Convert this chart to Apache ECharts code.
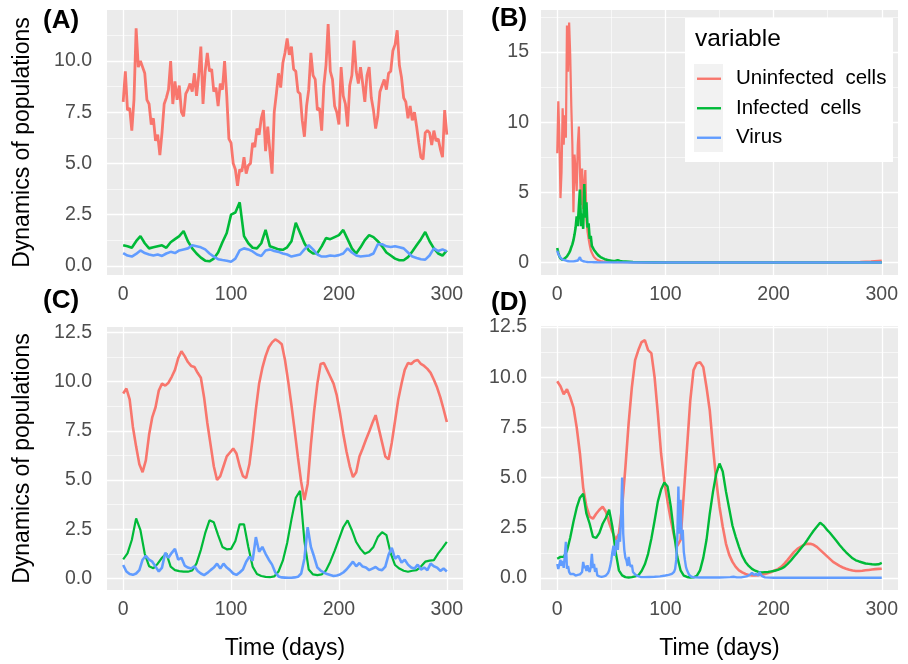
<!DOCTYPE html>
<html>
<head>
<meta charset="utf-8">
<script src="https://cdn.jsdelivr.net/npm/echarts@6/dist/echarts.min.js"></script>
<style>
html,body{margin:0;padding:0;background:#fff;}
#main{width:908px;height:664px;}
</style>
</head>
<body>
<div id="main"></div>
<script>
// series names and colours (ggplot defaults)
var seriesNames = ['Uninfected  cells', 'Infected  cells', 'Virus'];
var seriesColors = ['#F8766D', '#00BA38', '#619CFF'];

// ---- panel A (step in days given per series) ----
var aUninfStep = 2;
var aUninf = [
  8.0, 9.5, 7.6, 7.7, 6.6, 8.1, 11.6, 9.7, 10.0, 9.7,
  9.4, 8.1, 7.9, 6.9, 7.2, 6.1, 6.4, 5.4, 6.5, 7.9,
  8.2, 8.6, 10.0, 7.9, 9.0, 8.1, 8.8, 7.5, 7.3, 8.4,
  8.6, 8.9, 8.5, 9.4, 8.3, 9.3, 10.7, 7.9, 9.5, 10.4,
  9.5, 9.6, 8.5, 8.7, 7.8, 8.9, 8.6, 10.0, 8.3, 6.2,
  6.0, 5.0, 4.7, 3.9, 4.7, 4.6, 5.3, 4.5, 4.9, 5.0,
  6.0, 5.8, 6.7, 6.4, 7.2, 7.6, 5.6, 6.8, 5.6, 4.5,
  7.5, 8.4, 9.4, 8.7, 9.9, 10.4, 11.1, 10.3, 10.7, 9.6,
  9.5, 8.5, 8.4, 7.1, 6.3, 7.8, 8.6, 10.4, 9.3, 9.1,
  7.6, 7.7, 6.6, 8.8, 9.8, 11.8, 9.5, 9.1, 7.8, 7.5,
  6.9, 9.7, 8.3, 7.9, 6.8, 8.8, 9.3, 11.0, 9.5, 8.9,
  9.7, 8.9, 8.0, 9.3, 9.7, 8.2, 7.6, 6.7, 7.3, 8.5,
  8.8, 9.1, 8.6, 9.4, 9.5, 10.5, 10.8, 11.5, 9.8, 9.2,
  8.2, 8.0, 7.2, 7.8, 7.1, 7.5, 6.8, 6.0, 5.3, 5.2,
  6.5, 6.6, 6.5, 5.9, 6.6, 6.1, 6.2, 5.7, 5.3, 7.6,
  6.4
];
var aInfStep = 4;
var aInf = [
  1.0, 0.95, 0.88, 1.2, 1.45, 1.1, 0.85, 0.9, 0.95, 1.0,
  0.88, 1.15, 1.3, 1.45, 1.7, 1.2, 0.85, 0.6, 0.4, 0.25,
  0.22, 0.35, 0.65, 1.15, 1.6, 2.5, 2.6, 3.1, 1.45, 1.1,
  0.88, 0.85, 1.1, 1.75, 0.95, 0.88, 0.8, 0.78, 0.9, 1.2,
  2.1, 1.6, 1.1, 0.75, 0.6, 0.62, 0.95, 1.35, 1.3, 1.4,
  1.5, 1.75, 1.3, 0.85, 0.6, 0.9, 1.25, 1.5, 1.4, 1.2,
  0.95, 0.65, 0.5, 0.35, 0.27, 0.27, 0.42, 0.7, 1.0, 1.3,
  1.65, 1.2, 0.85, 0.6, 0.5, 0.75
];
var aVirStep = 4;
var aVir = [
  0.62, 0.5, 0.45, 0.58, 0.75, 0.62, 0.55, 0.5, 0.55, 0.48,
  0.6, 0.68, 0.62, 0.75, 0.8, 0.85, 1.0, 0.95, 0.9, 0.8,
  0.6, 0.45, 0.32, 0.28, 0.25, 0.2, 0.35, 0.75, 0.85, 0.8,
  0.7, 0.55, 0.48, 0.75, 0.8, 0.72, 0.68, 0.6, 0.55, 0.45,
  0.5, 0.55, 0.8, 1.0, 0.8, 0.55, 0.45, 0.45, 0.5, 0.48,
  0.52, 0.6, 0.85, 0.65, 0.5, 0.45, 0.48, 0.5, 0.6, 1.05,
  1.05, 0.95, 0.92, 0.95, 0.9, 0.85, 0.65, 0.45, 0.38, 0.32,
  0.3, 0.5, 0.85, 0.72, 0.8, 0.7
];

// ---- panel B (daily to day 60, then every 10 days) ----
var bDays = [
  0,1,2,3,4,5,6,7,8,9,10,11,12,13,14,15,16,17,18,19,20,21,22,23,24,25,26,27,28,29,
  30,31,32,33,34,35,36,37,38,39,40,41,42,43,44,45,46,47,48,49,50,51,52,53,54,55,56,57,58,59,60,
  70,80,90,100,110,120,130,140,150,160,170,180,190,200,210,220,230,240,250,260,270,280,290,300
];
var bUninf = [
  7.8, 11.5, 8.9, 4.6, 6.5, 11.0, 8.4, 10.5, 8.9, 16.9,
  13.6, 17.1, 14.8, 11.2, 8.4, 3.6, 7.7, 6.5, 5.1, 8.4,
  9.7, 6.5, 4.1, 6.7, 3.8, 5.6, 6.6, 3.0, 2.2, 1.7,
  1.25, 0.9, 0.7, 0.55, 0.4, 0.32, 0.25, 0.2, 0.16, 0.13,
  0.11, 0.1, 0.09, 0.08, 0.08, 0.07, 0.06, 0.06, 0.05, 0.05,
  0.05, 0.04, 0.04, 0.04, 0.04, 0.03, 0.03, 0.03, 0.03, 0.03,
  0.03,
  0.03, 0.02, 0.02, 0.02, 0.02, 0.02, 0.02, 0.02, 0.02, 0.02,
  0.02, 0.02, 0.02, 0.02, 0.02, 0.02, 0.02, 0.02, 0.02, 0.02,
  0.03, 0.06, 0.1, 0.15
];
var bInf = [
  1.05, 0.7, 0.45, 0.3, 0.22, 0.2, 0.25, 0.3, 0.38, 0.45,
  0.55, 0.7, 0.85, 1.1, 1.3, 1.6, 2.0, 2.5, 3.3, 2.6,
  4.0, 5.2, 2.6, 3.5, 2.4, 5.6, 3.2, 4.3, 2.5, 2.8,
  1.7, 1.9, 1.2, 1.05, 0.9, 0.8, 0.7, 0.6, 0.52, 0.45,
  0.4, 0.35, 0.32, 0.28, 0.25, 0.22, 0.2, 0.18, 0.16, 0.15,
  0.14, 0.13, 0.12, 0.12, 0.13, 0.16, 0.18, 0.15, 0.12, 0.1,
  0.09,
  0.05, 0.03, 0.02, 0.01, 0.01, 0.01, 0.01, 0.01, 0.01, 0.01,
  0.01, 0.01, 0.01, 0.01, 0.01, 0.01, 0.01, 0.01, 0.01, 0.01,
  0.01, 0.01, 0.01, 0.01
];
var bVir = [
  0.85, 0.6, 0.5, 0.35, 0.28, 0.22, 0.3, 0.18, 0.15, 0.12,
  0.12, 0.1, 0.1, 0.09, 0.1, 0.09, 0.1, 0.12, 0.13, 0.15,
  0.2, 0.4, 0.18, 0.12, 0.1, 0.08, 0.07, 0.06, 0.05, 0.05,
  0.04, 0.04, 0.04, 0.03, 0.03, 0.03, 0.03, 0.02, 0.02, 0.02,
  0.02, 0.02, 0.02, 0.02, 0.02, 0.02, 0.02, 0.02, 0.02, 0.02,
  0.02, 0.02, 0.02, 0.02, 0.02, 0.02, 0.02, 0.02, 0.02, 0.02,
  0.02,
  0.01, 0.01, 0.01, 0.01, 0.01, 0.01, 0.01, 0.01, 0.01, 0.01,
  0.01, 0.01, 0.01, 0.01, 0.01, 0.01, 0.01, 0.01, 0.01, 0.01,
  0.01, 0.01, 0.01, 0.01
];

// ---- panel C ----
var cUninfStep = 3;
var cUninf = [
  9.4, 9.65, 9.1, 7.7, 6.7, 5.8, 5.4, 6.0, 7.3, 8.2,
  8.7, 9.55, 9.9, 9.8, 9.95, 10.25, 10.6, 11.2, 11.55, 11.3,
  11.0, 10.8, 10.75, 10.45, 10.2, 9.2, 7.9, 6.8, 5.7, 5.0,
  5.2, 5.7, 6.2, 6.4, 6.6, 6.35, 5.7, 5.2, 5.1, 5.8,
  7.1, 8.6, 9.9, 10.7, 11.3, 11.75, 12.0, 12.15, 12.05, 11.9,
  11.1, 10.0, 8.8, 7.5, 6.15, 4.9, 3.98, 4.8, 6.8, 8.5,
  9.9, 10.9, 10.95, 10.6, 10.25, 9.9, 9.3, 8.4, 7.35, 6.45,
  5.7, 5.15, 5.4, 6.2, 6.6, 7.05, 7.45, 7.9, 8.3, 7.6,
  6.9, 6.2, 6.05, 6.9, 8.0, 9.1, 9.9, 10.6, 10.95, 10.9,
  11.05, 11.1, 10.9, 10.8, 10.65, 10.45, 10.1, 9.7, 9.2, 8.6,
  7.95
];
var cInfStep = 4;
var cInf = [
  0.97, 1.27, 1.95, 3.05, 2.45, 1.25, 0.62, 0.52, 0.75, 1.05,
  1.27, 0.6, 0.42, 0.37, 0.34, 0.34, 0.4, 0.76, 1.45, 2.3,
  2.95, 2.85, 2.2, 1.6, 1.48, 1.5, 1.9, 2.75, 2.75, 1.6,
  0.6, 0.22, 0.12, 0.08, 0.06, 0.1, 0.35, 0.9, 1.8, 3.0,
  4.1, 4.45, 1.9, 0.45, 0.2, 0.17, 0.2, 0.4, 0.85, 1.4,
  2.0, 2.6, 2.95, 2.45, 1.85, 1.5, 1.25, 1.35, 1.6, 2.1,
  2.35, 2.2, 1.27, 0.68, 0.5, 0.39, 0.34, 0.39, 0.42, 0.6,
  0.85, 0.9, 0.93, 1.27, 1.55, 1.86
];
var cVirStep = 3;
var cVir = [
  0.68, 0.35, 0.22, 0.18, 0.25, 0.42, 0.95, 1.15, 0.95, 0.85,
  0.6, 0.35, 0.55, 1.3, 1.05, 1.3, 1.5, 0.95, 1.05, 0.65,
  0.55, 0.5, 0.62, 0.38, 0.25, 0.17, 0.28, 0.42, 0.55, 0.75,
  0.5, 0.75, 0.55, 0.42, 0.25, 0.18, 0.3, 0.45, 0.85, 1.1,
  0.9, 2.1, 1.35, 1.6, 1.25, 0.95, 0.7, 0.3, 0.1, 0.05,
  0.04, 0.03, 0.03, 0.05, 0.08, 0.25, 1.0, 2.6, 1.6, 1.1,
  0.55, 0.4, 0.3, 0.22, 0.17, 0.12, 0.15, 0.2, 0.3, 0.45,
  0.65, 0.85, 0.62, 0.78, 0.6, 0.55, 0.42, 0.5, 0.58, 0.45,
  0.42, 0.6, 1.2, 1.55, 1.0, 1.15, 0.8, 0.95, 0.7, 0.55,
  0.5, 0.7, 0.45, 0.55, 0.42, 0.75, 0.62, 0.55, 0.38, 0.5,
  0.35
];

// ---- panel D ----
var dUninfStep = 3;
var dUninf = [
  9.8, 9.55, 9.15, 9.4, 9.0, 8.5, 7.5, 6.2, 4.5, 3.55,
  3.05, 2.95, 3.2, 3.4, 3.55, 3.3, 2.75, 2.3, 1.9, 2.2,
  3.55, 5.5, 7.7, 9.5, 10.85, 11.35, 11.75, 11.85, 11.35, 11.2,
  10.0, 8.2, 6.2, 4.8, 3.8, 2.9, 2.1, 1.6, 1.9, 4.2,
  6.5, 8.85, 10.35, 10.7, 10.75, 10.5, 9.5, 8.35, 6.5, 4.85,
  3.55, 2.55, 1.7, 1.15, 0.8, 0.55, 0.38, 0.28, 0.2, 0.15,
  0.13, 0.13, 0.14, 0.17, 0.2, 0.25, 0.3, 0.37, 0.44, 0.55,
  0.71, 0.9, 1.1, 1.3, 1.45, 1.55, 1.65, 1.7, 1.7, 1.65,
  1.55, 1.4, 1.25, 1.1, 0.95, 0.8, 0.7, 0.6, 0.52, 0.46,
  0.41, 0.37, 0.35, 0.35, 0.36, 0.38, 0.4, 0.42, 0.44, 0.45,
  0.46
];
var dInfStep = 3;
var dInf = [
  0.96, 1.05, 1.05, 1.35, 2.0, 2.8, 3.5, 4.0, 4.2, 3.2,
  2.7, 2.05, 2.0, 2.25, 2.7, 3.0, 3.4, 2.55, 1.3, 0.38,
  0.13, 0.04, 0.02, 0.04, 0.08, 0.13, 0.35, 0.68, 1.2, 1.95,
  2.85, 3.8, 4.4, 4.75, 4.55, 3.55, 2.2, 1.05, 0.38, 0.12,
  0.05, 0.02, 0.03, 0.1, 0.38, 1.0, 1.9, 3.2, 4.3, 5.2,
  5.7, 5.3, 4.3, 3.45, 2.6, 2.05, 1.55, 1.1, 0.8, 0.6,
  0.45, 0.36, 0.3, 0.28, 0.29, 0.3, 0.33, 0.36, 0.4, 0.46,
  0.55, 0.7, 0.87, 1.07, 1.26, 1.46, 1.65, 1.88, 2.12, 2.35,
  2.55, 2.75, 2.62, 2.42, 2.25, 2.05, 1.85, 1.64, 1.45, 1.28,
  1.13, 0.98, 0.88, 0.82, 0.77, 0.72, 0.7, 0.68, 0.67, 0.68,
  0.75
];
var dVirDays = [
  0,1,2,3,4,5,6,7,8,9,10,11,12,13,15,17,19,21,23,
  24,25,26,27,28,29,30,31,32,33,34,35,36,37,39,41,43,45,47,
  48,49,50,51,52,53,54,55,56,57,58,59,60,61,62,63,64,65,66,67,68,69,70,
  72,74,77,80,85,90,95,100,103,106,108,
  109,110,111,112,113,114,115,116,117,118,119,120,
  122,124,127,132,140,150,160,163,166,170,175,178,180,182,184,186,187,189,192,200,220,250,280,300
];
var dVir = [
  0.7, 0.45, 0.38, 0.9, 0.6, 0.85, 0.5, 1.1, 1.8, 0.46, 0.6, 0.3, 0.2, 0.13, 0.2, 0.12, 0.15, 0.18, 0.3,
  0.8, 0.5, 0.6, 0.35, 0.63, 0.4, 0.3, 0.55, 1.2, 0.5, 0.7, 0.3, 0.5, 0.13, 0.08, 0.05, 0.08, 0.12, 0.25,
  0.38, 0.6, 0.9, 1.3, 1.6, 1.1, 1.5, 1.9, 1.4, 2.2, 1.8, 3.0, 5.0, 2.2, 1.4, 1.0, 0.88, 0.6, 1.05, 0.7, 0.55, 0.65, 0.3,
  0.18, 0.1, 0.05, 0.04, 0.05, 0.06, 0.08, 0.12, 0.15, 0.2, 0.3,
  0.45, 0.9, 2.0, 4.55, 2.2, 3.9, 1.9, 2.4, 1.3, 0.9, 0.55, 0.38,
  0.15, 0.06, 0.03, 0.02, 0.02, 0.02, 0.04, 0.06, 0.03, 0.03, 0.08, 0.15, 0.25, 0.15, 0.2, 0.12, 0.3, 0.1, 0.03, 0.01, 0.01, 0.01, 0.01, 0.01
];

// axis ticks / gridlines
var xTicks = [0, 100, 200, 300];
var xMinor = [50, 150, 250];
var yTicksA = [0, 2.5, 5, 7.5, 10];
var yTicksB = [0, 5, 10, 15];
var yMinorB = [2.5, 7.5, 12.5, 17.5];
var yTicksCD = [0, 2.5, 5, 7.5, 10, 12.5];
var yMinorACD = [1.25, 3.75, 6.25, 8.75, 11.25];

function stepPairs(step, vals) {
  return vals.map(function (v, i) { return [i * step, v]; });
}
function zipPairs(days, vals) {
  return days.map(function (d, i) { return [d, vals[i]]; });
}

var FONT = '"Liberation Sans", Arial, sans-serif';

var panels = [
  { label: '(A)', grid: { left: 107, top: 10, width: 356, height: 265 },
    yMin: -0.45, yMax: 12.49, yTicks: yTicksA, yMinor: yMinorACD, dec: 1, yMargin: 15,
    yName: true, xName: false, labelPos: { left: 43, top: 8 },
    widths: [2.8, 2.6, 2.6],
    data: [stepPairs(aUninfStep, aUninf), stepPairs(aInfStep, aInf), stepPairs(aVirStep, aVir)] },
  { label: '(B)', grid: { left: 541, top: 10, width: 357, height: 265 },
    yMin: -0.88, yMax: 18.0, yTicks: yTicksB, yMinor: yMinorB, dec: 0, yMargin: 12,
    yName: false, xName: false, labelPos: { left: 491, top: 6 },
    widths: [2.2, 2.6, 2.4],
    data: [zipPairs(bDays, bUninf), zipPairs(bDays, bInf), zipPairs(bDays, bVir)] },
  { label: '(C)', grid: { left: 107, top: 327, width: 356, height: 263 },
    yMin: -0.59, yMax: 12.78, yTicks: yTicksCD, yMinor: yMinorACD, dec: 1, yMargin: 15,
    yName: true, xName: true, labelPos: { left: 43, top: 288 },
    widths: [2.6, 2.2, 2.6],
    data: [stepPairs(cUninfStep, cUninf), stepPairs(cInfStep, cInf), stepPairs(cVirStep, cVir)] },
  { label: '(D)', grid: { left: 541, top: 326, width: 357, height: 264 },
    yMin: -0.6, yMax: 12.55, yTicks: yTicksCD, yMinor: yMinorACD, dec: 1, yMargin: 14,
    yName: false, xName: true, labelPos: { left: 491, top: 290 },
    widths: [2.6, 2.4, 2.4],
    data: [stepPairs(dUninfStep, dUninf), stepPairs(dInfStep, dInf), zipPairs(dVirDays, dVir)] }
];

var grids = [], xAxes = [], yAxes = [], series = [], titles = [];

panels.forEach(function (p, k) {
  grids.push({ left: p.grid.left, top: p.grid.top, width: p.grid.width, height: p.grid.height,
    show: true, backgroundColor: '#EBEBEB', borderWidth: 0 });

  xAxes.push({
    type: 'value', gridIndex: k, min: -15, max: 315,
    axisLine: { show: false },
    axisTick: { show: true, length: 5, customValues: xTicks, lineStyle: { color: '#333333', width: 1 } },
    axisLabel: { customValues: xTicks, margin: 10, fontSize: 19.5, color: '#4D4D4D', fontFamily: FONT },
    splitLine: { show: false },
    name: p.xName ? 'Time (days)' : '', nameLocation: 'middle', nameGap: 47,
    nameTextStyle: { fontSize: 23, color: '#000', fontFamily: FONT }
  });

  yAxes.push({
    type: 'value', gridIndex: k, min: p.yMin, max: p.yMax,
    axisLine: { show: false },
    axisTick: { show: true, length: 5, customValues: p.yTicks, lineStyle: { color: '#333333', width: 1 } },
    axisLabel: { customValues: p.yTicks, margin: p.yMargin, fontSize: 19.5, color: '#4D4D4D', fontFamily: FONT,
      formatter: function (v) { return v.toFixed(p.dec); } },
    splitLine: { show: false },
    name: p.yName ? 'Dynamics of populations' : '', nameLocation: 'middle', nameGap: 73,
    nameTextStyle: { fontSize: 23, color: '#000', fontFamily: FONT }
  });

  // panel gridlines, drawn through the axes as mark lines under the data
  var lines = [];
  p.yTicks.forEach(function (v) { lines.push({ yAxis: v, lineStyle: { width: 1.3 } }); });
  p.yMinor.forEach(function (v) { lines.push({ yAxis: v, lineStyle: { width: 0.6 } }); });
  xTicks.forEach(function (v) { lines.push({ xAxis: v, lineStyle: { width: 1.3 } }); });
  xMinor.forEach(function (v) { lines.push({ xAxis: v, lineStyle: { width: 0.6 } }); });
  series.push({
    type: 'line', xAxisIndex: k, yAxisIndex: k, data: [], z: 1, silent: true,
    markLine: { z: 1, silent: true, symbol: ['none', 'none'], label: { show: false },
      lineStyle: { color: '#FFFFFF', type: 'solid' }, emphasis: { disabled: true }, data: lines }
  });

  p.data.forEach(function (d, j) {
    series.push({
      name: seriesNames[j], type: 'line', xAxisIndex: k, yAxisIndex: k, data: d,
      symbol: 'none', showSymbol: false, z: 2 + j, clip: true,
      color: seriesColors[j],
      lineStyle: { color: seriesColors[j], width: p.widths[j] }
    });
  });

  titles.push({ text: p.label, left: p.labelPos.left, top: p.labelPos.top, padding: 0,
    textStyle: { fontSize: 26, fontWeight: 'bold', color: '#000', fontFamily: FONT } });
});

titles.push({ text: 'variable', left: 695, top: 27, padding: 0,
  textStyle: { fontSize: 24.5, fontWeight: 'normal', color: '#000', fontFamily: FONT } });

var chart = echarts.init(document.getElementById('main'), null, { renderer: 'canvas' });
chart.setOption({
  animation: false,
  backgroundColor: '#FFFFFF',
  title: titles,
  grid: grids,
  xAxis: xAxes,
  yAxis: yAxes,
  legend: {
    data: seriesNames, orient: 'vertical', left: 697, top: 64,
    icon: 'rect', itemWidth: 24, itemHeight: 2.4, itemGap: 0, padding: 0, selectedMode: false,
    textStyle: { fontSize: 20.5, color: '#000', fontFamily: FONT, lineHeight: 29.5, padding: [0, 0, 0, 10] }
  },
  graphic: [
    { type: 'rect', z: 3, shape: { x: 685, y: 18, width: 208, height: 144 }, style: { fill: '#FFFFFF' } },
    { type: 'rect', z: 3, shape: { x: 694, y: 64, width: 29, height: 88 }, style: { fill: '#F2F2F2' } }
  ],
  series: series
});
</script>
</body>
</html>
